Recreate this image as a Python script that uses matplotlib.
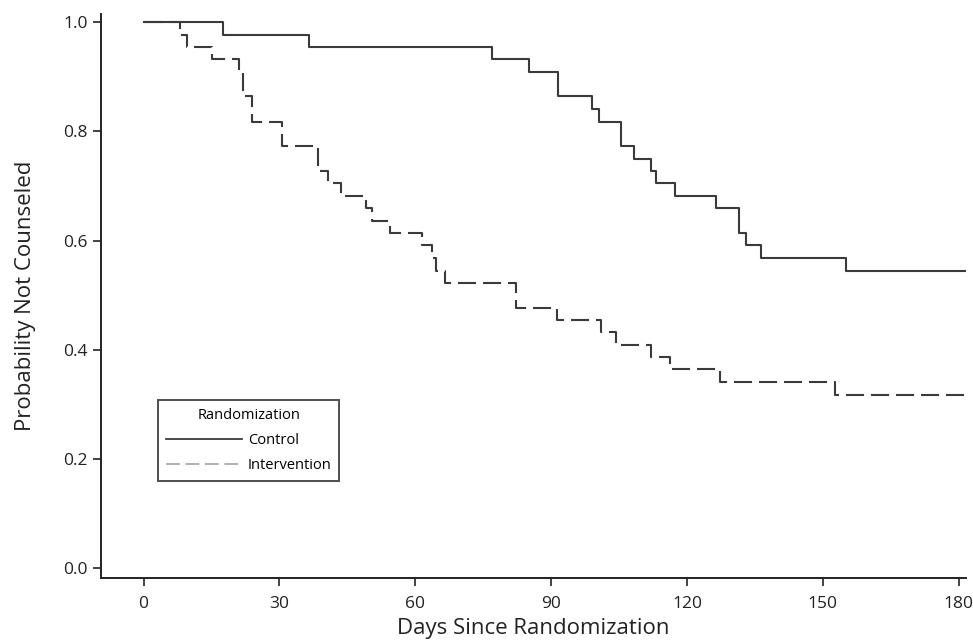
import matplotlib.pyplot as plt
from matplotlib.lines import Line2D

plt.rcParams['font.family'] = ['Open Sans', 'DejaVu Sans']
plt.rcParams['lines.scale_dashes'] = False

# Kaplan-Meier step data (days, probability not counseled)
control_days = [0, 17.5, 36.5, 77, 85, 91.5, 99, 100.5, 105.4, 108.3, 112.1, 113.1,
                117.4, 126.3, 131.4, 133.1, 136.3, 155.2, 182]
control_prob = [1.0, 0.977, 0.955, 0.932, 0.909, 0.864, 0.841, 0.818, 0.773, 0.750,
                0.727, 0.705, 0.682, 0.659, 0.614, 0.591, 0.568, 0.545, 0.545]

interv_days = [0, 8, 9.5, 15, 21, 22, 24, 30.5, 38.6, 40.8, 43.7, 49.2, 50.4, 54.4,
               61.4, 63.6, 64.5, 66.5, 82.2, 91.2, 101.1, 104.4, 112.1, 116.2, 127.2,
               152.7, 182]
interv_prob = [1.0, 0.977, 0.955, 0.932, 0.909, 0.864, 0.818, 0.773, 0.727, 0.705,
               0.682, 0.659, 0.636, 0.614, 0.591, 0.568, 0.545, 0.523, 0.477, 0.455,
               0.432, 0.409, 0.386, 0.364, 0.341, 0.318, 0.318]

x_ticks = [0, 30, 60, 90, 120, 150, 180]
y_ticks = [0.0, 0.2, 0.4, 0.6, 0.8, 1.0]

fig = plt.figure(figsize=(9.73, 6.44), dpi=100)
ax = fig.add_axes([101 / 973, 66 / 644, 865 / 973, 564 / 644])

ax.step(control_days, control_prob, where='post', color='#3a3a3a', lw=1.5)
ax.step(interv_days, interv_prob, where='post', color='#3a3a3a', lw=1.5,
        linestyle=(0, (13, 5)))

ax.set_xlim(-9.4, 181.6)
ax.set_ylim(-0.018, 1.015)
ax.set_xticks(x_ticks)
ax.set_yticks(y_ticks)
ax.set_yticklabels([f'{v:.1f}' for v in y_ticks])
ax.tick_params(axis='both', direction='out', length=6, width=1.2, labelsize=12.5,
               colors='#222222')
ax.tick_params(axis='x', pad=7)

for side in ['top', 'right']:
    ax.spines[side].set_visible(False)
for side in ['left', 'bottom']:
    ax.spines[side].set_linewidth(1.4)
    ax.spines[side].set_color('#222222')

ax.set_xlabel('Days Since Randomization', fontsize=16, color='#222222', labelpad=4)
ax.set_ylabel('Probability Not Counseled', fontsize=16, color='#222222', labelpad=20)

handles = [Line2D([], [], color='#3a3a3a', lw=1.3),
           Line2D([], [], color='#aaaaaa', lw=1.3, linestyle=(0, (10, 4)))]
leg = ax.legend(handles, ['Control', 'Intervention'], title='Randomization',
                loc='upper left', bbox_to_anchor=(57 / 865, (578 - 400) / 564),
                fontsize=10.5, title_fontsize=10.5, frameon=True, fancybox=False,
                handlelength=5.2, borderpad=0.55, labelspacing=0.7,
                handletextpad=0.4, borderaxespad=0)
leg.get_frame().set_edgecolor('#222222')
leg.get_frame().set_linewidth(1.4)

fig.savefig('out.png', dpi=100)
